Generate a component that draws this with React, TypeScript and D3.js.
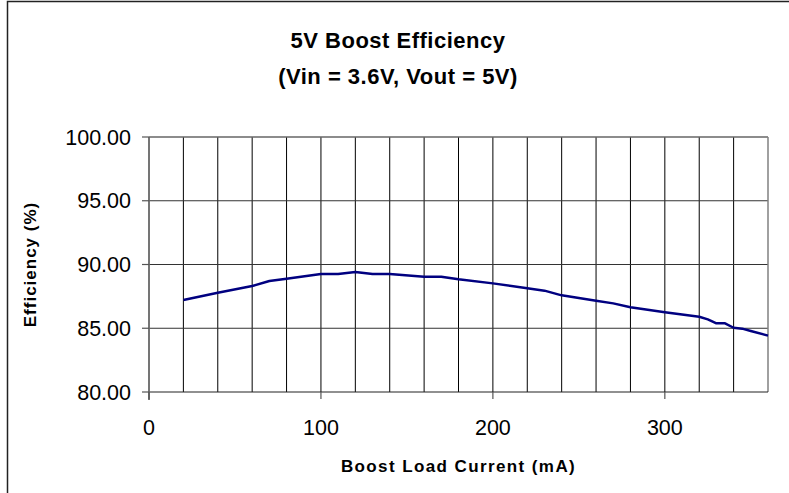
import React, { useEffect, useRef } from 'react';
import * as d3 from 'd3';

// load current (mA) and efficiency (%)
const current = [20, 40, 60, 70, 80, 100, 110, 120, 130, 140, 160, 170, 180, 200, 220, 230, 240, 260, 270, 280, 300, 320, 325, 330, 335, 340, 345, 350, 360];
const efficiency = [87.22, 87.79, 88.31, 88.7, 88.89, 89.25, 89.25, 89.41, 89.25, 89.25, 89.04, 89.04, 88.84, 88.52, 88.13, 87.95, 87.58, 87.16, 86.95, 86.64, 86.25, 85.9, 85.7, 85.39, 85.39, 85.04, 84.97, 84.78, 84.42];

const xTicks = [0, 100, 200, 300];
const xGrid = d3.range(20, 360, 20);
const yTicks = [80, 85, 90, 95, 100];

const titleLines = ['5V Boost Efficiency', '(Vin = 3.6V, Vout = 5V)'];
const xTitle = 'Boost Load Current (mA)';
const yTitle = 'Efficiency (%)';

const App: React.FC = () => {
  const ref = useRef<SVGSVGElement>(null);

  useEffect(() => {
    if (!ref.current) return;
    const svg = d3.select(ref.current);
    svg.selectAll('*').remove();

    const W = 789, H = 493;
    const left = 149, right = 768, top = 137, bottom = 392;
    const font = '"Liberation Sans", Arial, sans-serif';

    const x = d3.scaleLinear().domain([0, 360]).range([left, right]);
    const y = d3.scaleLinear().domain([80, 100]).range([bottom, top]);

    svg.append('rect').attr('width', W).attr('height', H).attr('fill', '#fff');

    // outer chart frame (cut off at right and bottom)
    svg.append('rect')
      .attr('x', 7.5).attr('y', 1.5)
      .attr('width', W + 20).attr('height', H + 20)
      .attr('fill', 'none').attr('stroke', '#222').attr('stroke-width', 1.5);

    // vertical grid
    svg.append('g').selectAll('line').data(xGrid).join('line')
      .attr('x1', d => x(d)).attr('x2', d => x(d))
      .attr('y1', top).attr('y2', bottom)
      .attr('stroke', '#000').attr('stroke-width', 1);

    // horizontal grid
    svg.append('g').selectAll('line').data(yTicks.slice(1)).join('line')
      .attr('x1', left).attr('x2', right)
      .attr('y1', d => y(d)).attr('y2', d => y(d))
      .attr('stroke', '#333').attr('stroke-width', 1);

    // plot frame
    svg.append('line').attr('x1', left).attr('x2', right).attr('y1', top).attr('y2', top)
      .attr('stroke', '#808080').attr('stroke-width', 1.2);
    svg.append('line').attr('x1', right).attr('x2', right).attr('y1', top).attr('y2', bottom)
      .attr('stroke', '#808080').attr('stroke-width', 1.5);
    svg.append('line').attr('x1', left).attr('x2', right).attr('y1', bottom).attr('y2', bottom)
      .attr('stroke', '#222').attr('stroke-width', 1.2);
    svg.append('line').attr('x1', left).attr('x2', left).attr('y1', top).attr('y2', bottom + 8)
      .attr('stroke', '#666').attr('stroke-width', 1.8);

    // y ticks + labels
    const yAx = svg.append('g');
    yAx.selectAll('line').data(yTicks).join('line')
      .attr('x1', left - 7).attr('x2', left)
      .attr('y1', d => y(d)).attr('y2', d => y(d))
      .attr('stroke', '#555').attr('stroke-width', 1.2);
    yAx.selectAll('text').data(yTicks).join('text')
      .attr('x', 131).attr('y', d => y(d)).attr('dy', '0.36em')
      .attr('text-anchor', 'end')
      .style('font-family', font)
      .style('font-size', '21.5px')
      .text(d => d3.format('.2f')(d));

    // x ticks + labels
    const xAx = svg.append('g');
    xAx.selectAll('line').data(xTicks).join('line')
      .attr('x1', d => x(d)).attr('x2', d => x(d))
      .attr('y1', bottom).attr('y2', bottom + 7)
      .attr('stroke', '#555').attr('stroke-width', 1.2);
    xAx.selectAll('text').data(xTicks).join('text')
      .attr('x', d => x(d)).attr('y', 435)
      .attr('text-anchor', 'middle')
      .style('font-family', font)
      .style('font-size', '21.5px')
      .text(d => d);

    // curve
    const pts = current.map((c, i) => [c, efficiency[i]] as [number, number]);
    svg.append('path')
      .datum(pts)
      .attr('fill', 'none')
      .attr('stroke', '#000080')
      .attr('stroke-width', 2.5)
      .attr('stroke-linejoin', 'round')
      .attr('d', d3.line<[number, number]>().x(d => x(d[0])).y(d => y(d[1])));

    // titles
    svg.append('g').selectAll('text').data(titleLines).join('text')
      .attr('x', 398).attr('y', (d, i) => 48 + i * 36)
      .attr('text-anchor', 'middle')
      .style('font-family', font)
      .style('font-weight', 'bold')
      .style('font-size', '22px')
      .style('letter-spacing', '0.5px')
      .text(d => d);

    svg.append('text')
      .attr('x', (left + right) / 2).attr('y', 472)
      .attr('text-anchor', 'middle')
      .style('font-family', font)
      .style('font-weight', 'bold')
      .style('font-size', '17px')
      .style('letter-spacing', '1.4px')
      .text(xTitle);

    svg.append('text')
      .attr('transform', `translate(36,${(top + bottom) / 2}) rotate(-90)`)
      .attr('text-anchor', 'middle')
      .style('font-family', font)
      .style('font-weight', 'bold')
      .style('font-size', '17px')
      .style('letter-spacing', '1px')
      .text(yTitle);
  }, []);

  return (
    <svg ref={ref} width={789} height={493} style={{ position: 'absolute', left: 0, top: 0 }} />
  );
};

export default App;
